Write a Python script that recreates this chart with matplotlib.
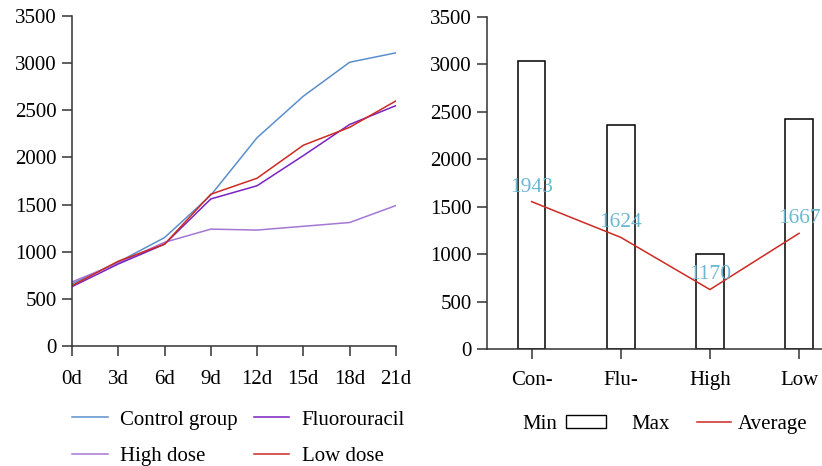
import numpy as np
import matplotlib
matplotlib.use("Agg")
import matplotlib.pyplot as plt
from matplotlib.patches import Patch
from matplotlib.lines import Line2D

plt.rcParams["font.family"] = ["Liberation Serif", "DejaVu Serif"]
plt.rcParams["font.size"] = 15

# left panel: growth over time
days = ["0d", "3d", "6d", "9d", "12d", "15d", "18d", "21d"]
control = [660, 890, 1150, 1600, 2210, 2650, 3010, 3110]
fluorouracil = [630, 870, 1080, 1560, 1700, 2020, 2350, 2550]
high_dose = [680, 880, 1100, 1240, 1230, 1270, 1310, 1490]
low_dose = [640, 900, 1080, 1610, 1780, 2130, 2320, 2600]

# right panel: max bars, average line, labels
groups = ["Con-", "Flu-", "High", "Low"]
max_vals = [3035, 2362, 1001, 2422]
avg_vals = [1554, 1177, 627, 1220]
avg_labels = ["1943", "1624", "1170", "1667"]

SPINE = "#333333"
C_CTRL = "#5b8fcb"
C_FLU = "#7a22c2"
C_HIGH = "#a477d6"
C_LOW = "#cc2a22"
C_LABEL = "#6bb8d0"


def style_axes(ax):
    for side in ("top", "right"):
        ax.spines[side].set_visible(False)
    for side in ("left", "bottom"):
        ax.spines[side].set_color(SPINE)
        ax.spines[side].set_linewidth(1.1)
    ax.tick_params(direction="out", length=7, width=1.1, color=SPINE, pad=4)
    ax.set_ylim(0, 3500)
    ax.set_yticks(np.arange(0, 3501, 500))


fig = plt.figure(figsize=(8.22, 4.66), dpi=100)

ax1 = fig.add_axes([0.0876, 0.2575, 0.394, 0.708])
x = np.arange(len(days))
ax1.plot(x, control, color=C_CTRL, lw=1.1, label="Control group")
ax1.plot(x, high_dose, color=C_HIGH, lw=1.1, label="High dose")
ax1.plot(x, fluorouracil, color=C_FLU, lw=1.1, label="Fluorouracil")
ax1.plot(x, low_dose, color=C_LOW, lw=1.1, label="Low dose")
style_axes(ax1)
ax1.set_xlim(0, len(days) - 1)
ax1.set_xticks(x)
ax1.set_xticklabels(days)
ax1.tick_params(axis="x", pad=10)
fig.legend(ncol=2, loc="center left", bbox_to_anchor=(0.078, 0.06), frameon=False,
           handlelength=1.7, handletextpad=0.6, columnspacing=0.75, labelspacing=0.8,
           borderaxespad=0)

ax2 = fig.add_axes([0.5925, 0.251, 0.4075, 0.7125])
xg = np.arange(len(groups))
ax2.bar(xg, max_vals, width=0.31, facecolor="white", edgecolor="black", linewidth=1.1)
ax2.plot(xg, avg_vals, color=C_LOW, lw=1.1)
for xi, yi, txt in zip(xg, avg_vals, avg_labels):
    ax2.annotate(txt, (xi, yi), xytext=(0, 10.5), textcoords="offset points",
                 ha="center", va="center", color=C_LABEL, fontsize=15.5)
style_axes(ax2)
ax2.set_xlim(-0.5, 3.257)
ax2.set_xticks(xg)
ax2.set_xticklabels(groups)
ax2.tick_params(axis="x", pad=9)

fig.text(0.635, 0.09, "Min", ha="left", va="center")
fig.legend([Patch(facecolor="white", edgecolor="black", linewidth=1.0)], ["Max"],
           loc="center left", bbox_to_anchor=(0.678, 0.09), frameon=False,
           handlelength=1.95, handleheight=0.6, handletextpad=1.2, borderaxespad=0)
fig.legend([Line2D([], [], color=C_LOW, lw=1.1)], ["Average"],
           loc="center left", bbox_to_anchor=(0.838, 0.09), frameon=False,
           handlelength=1.6, handletextpad=0.35, borderaxespad=0)

fig.savefig("out.png", dpi=100)
